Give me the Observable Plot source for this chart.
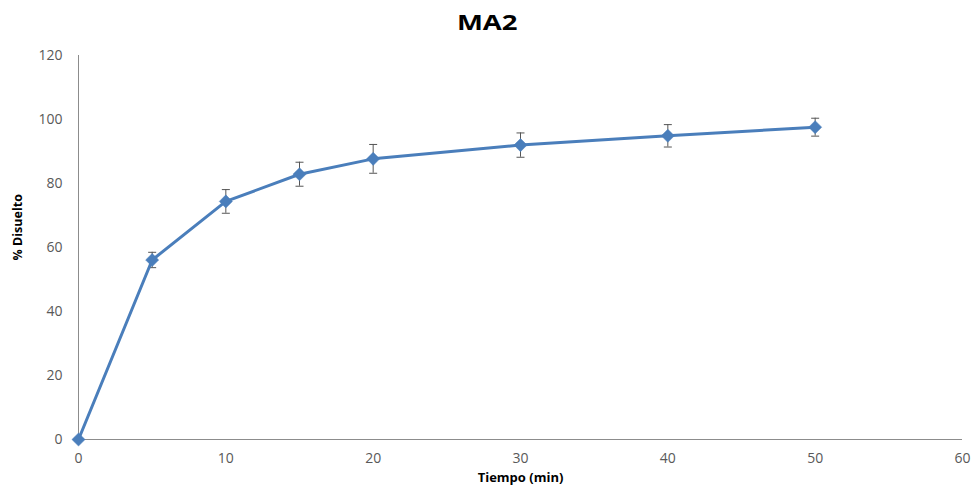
<!DOCTYPE html>
<html>
<head>
<meta charset="utf-8">
<script src="https://cdn.jsdelivr.net/npm/d3@7"></script>
<script src="https://cdn.jsdelivr.net/npm/@observablehq/plot@0.6"></script>
<style>
  html, body { margin: 0; padding: 0; background: #fff; }
  #title { height: 40px; line-height: 42px; text-align: center; font-family: "Open Sans", sans-serif; font-weight: bold; font-size: 22px; color: #000; }
  #title span { display: inline-block; transform: scaleX(1.25); }
</style>
</head>
<body>
<div id="title"><span>MA2</span></div>
<div id="chart"></div>
<script>
const titulo = "MA2";
const tiempo = [0, 5, 10, 15, 20, 30, 40, 50];
const disuelto = [0, 56.1, 74.4, 82.9, 87.7, 92.0, 94.9, 97.6];
const desvio = [0, 2.4, 3.7, 3.75, 4.5, 3.8, 3.5, 2.8];
const xTicks = [0, 10, 20, 30, 40, 50, 60];
const yTicks = [0, 20, 40, 60, 80, 100, 120];
const xLabel = "Tiempo (min)";
const yLabel = "% Disuelto";

const data = tiempo.map((t, i) => ({t, v: disuelto[i], e: desvio[i]}));
const withErr = data.filter(d => d.e > 0);
const caps = withErr.flatMap(d => [{t: d.t, y: d.v + d.e}, {t: d.t, y: d.v - d.e}]);

const capSymbol = {draw(ctx) { ctx.moveTo(-4, 0); ctx.lineTo(4, 0); }};
const blue = "#4A7EBB";
const axisGray = "#8C8C8C";
const textGray = "#595959";

const chart = Plot.plot({
  width: 975,
  height: 448,
  marginLeft: 78,
  marginRight: 13,
  marginTop: 15,
  marginBottom: 49,
  style: {fontFamily: "Open Sans, sans-serif", fontSize: "14px", color: textGray, background: "#fff"},
  x: {domain: [0, 60], ticks: xTicks},
  y: {domain: [0, 120], ticks: yTicks},
  marks: [
    Plot.axisX({ticks: xTicks, tickSize: 0, tickPadding: 14, label: null, fill: textGray, fontSize: 14}),
    Plot.axisY({ticks: yTicks, tickSize: 0, tickPadding: 16, label: null, fill: textGray, fontSize: 14}),
    Plot.ruleX([0], {y1: 0, y2: 120, stroke: axisGray, strokeWidth: 1}),
    Plot.ruleY([0], {x1: 0, x2: 60, stroke: axisGray, strokeWidth: 1}),
    Plot.ruleX(withErr, {x: "t", y1: d => d.v - d.e, y2: d => d.v + d.e, stroke: "#555", strokeWidth: 1}),
    Plot.dot(caps, {x: "t", y: "y", symbol: capSymbol, stroke: "#555", strokeWidth: 1, fill: "none", r: 4}),
    Plot.line(data, {x: "t", y: "v", stroke: blue, strokeWidth: 3}),
    Plot.dot(data, {x: "t", y: "v", symbol: "diamond2", r: 5.9, fill: blue, stroke: blue, strokeWidth: 0.5}),
    Plot.text([xLabel], {frameAnchor: "bottom", dy: 38, text: d => d, fontWeight: "bold", fontSize: 13, fill: "#000", lineAnchor: "middle"}),
    Plot.text([yLabel], {frameAnchor: "left", dx: -61, dy: 13, rotate: -90, text: d => d, fontWeight: "bold", fontSize: 12.5, fill: "#000", lineAnchor: "middle"})
  ]
});
document.getElementById("chart").appendChild(chart);
</script>
</body>
</html>
